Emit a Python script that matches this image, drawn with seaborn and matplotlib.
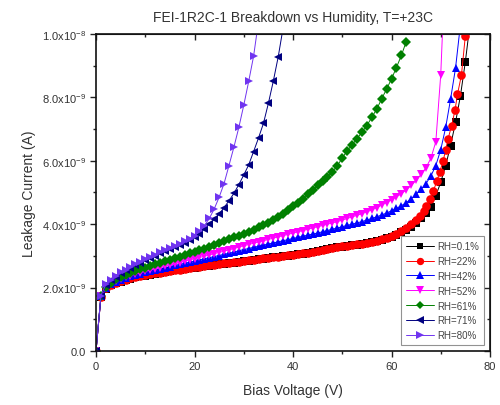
import matplotlib
matplotlib.use("Agg")
import matplotlib.pyplot as plt
from matplotlib.ticker import MultipleLocator
import pandas as pd
import seaborn as sns

# bias voltage (V) and leakage current (nA)
v_01 = list(range(0, 77))
i_01 = [0.0, 1.70, 1.97, 2.07, 2.14, 2.19, 2.24, 2.28, 2.32, 2.35, 2.38, 2.41, 2.44, 2.46, 2.49,
        2.51, 2.54, 2.56, 2.59, 2.61, 2.63, 2.65, 2.67, 2.69, 2.71, 2.73, 2.75, 2.77, 2.79, 2.81,
        2.83, 2.85, 2.87, 2.89, 2.91, 2.93, 2.95, 2.97, 2.99, 3.01, 3.03, 3.05, 3.07, 3.09, 3.12,
        3.15, 3.18, 3.21, 3.24, 3.27, 3.29, 3.31, 3.33, 3.35, 3.37, 3.40, 3.43, 3.47, 3.51, 3.55,
        3.60, 3.66, 3.74, 3.82, 3.92, 4.05, 4.20, 4.36, 4.55, 4.90, 5.32, 5.85, 6.48, 7.21, 8.05,
        9.13, 10.4]

v_22 = list(range(0, 66)) + [65.8, 66.5, 67.1, 67.8, 68.5, 69.2, 69.8, 70.5, 71.0, 71.5, 72.2,
                             72.9, 73.4, 74.2, 75.0, 75.5]
i_22 = [0.0, 1.70, 1.98, 2.08, 2.15, 2.20, 2.25, 2.29, 2.33, 2.36, 2.39, 2.42, 2.45, 2.47, 2.50,
        2.52, 2.55, 2.57, 2.60, 2.62, 2.64, 2.66, 2.68, 2.70, 2.72, 2.74, 2.76, 2.78, 2.80, 2.82,
        2.84, 2.86, 2.88, 2.90, 2.92, 2.94, 2.96, 2.98, 3.00, 3.02, 3.04, 3.06, 3.08, 3.10, 3.13,
        3.16, 3.19, 3.22, 3.25, 3.28, 3.30, 3.32, 3.34, 3.36, 3.38, 3.41, 3.44, 3.48, 3.52, 3.56,
        3.62, 3.70, 3.78, 3.88, 3.99, 4.12,
        4.26, 4.42, 4.58, 4.80, 5.05, 5.35, 5.65, 6.00, 6.35, 6.70, 7.10, 7.60, 8.10, 8.70, 9.95,
        11.2]

v_42 = list(range(0, 75))
i_42 = [0.0, 1.72, 1.98, 2.10, 2.18, 2.24, 2.30, 2.35, 2.40, 2.44, 2.48, 2.52, 2.56, 2.59, 2.63,
        2.66, 2.70, 2.73, 2.77, 2.80, 2.84, 2.87, 2.91, 2.94, 2.98, 3.01, 3.05, 3.08, 3.12, 3.16,
        3.20, 3.23, 3.27, 3.30, 3.34, 3.37, 3.41, 3.44, 3.48, 3.51, 3.55, 3.58, 3.62, 3.65, 3.69,
        3.72, 3.76, 3.80, 3.84, 3.88, 3.92, 3.96, 4.00, 4.04, 4.08, 4.13, 4.18, 4.23, 4.29, 4.35,
        4.42, 4.50, 4.58, 4.68, 4.80, 4.94, 5.10, 5.28, 5.52, 5.85, 6.35, 7.05, 7.95, 8.92, 10.3]

v_52 = list(range(0, 72))
i_52 = [0.0, 1.72, 2.00, 2.12, 2.20, 2.27, 2.33, 2.38, 2.43, 2.47, 2.51, 2.55, 2.59, 2.63, 2.67,
        2.71, 2.75, 2.79, 2.83, 2.87, 2.91, 2.95, 2.99, 3.03, 3.07, 3.11, 3.15, 3.19, 3.23, 3.28,
        3.32, 3.36, 3.40, 3.44, 3.48, 3.52, 3.56, 3.60, 3.64, 3.68, 3.72, 3.76, 3.80, 3.84, 3.88,
        3.92, 3.96, 4.00, 4.04, 4.08, 4.13, 4.18, 4.23, 4.28, 4.33, 4.39, 4.45, 4.52, 4.60, 4.68,
        4.77, 4.86, 4.96, 5.08, 5.22, 5.38, 5.57, 5.78, 6.08, 6.60, 8.72, 12.5]

v_61 = list(range(0, 64))
i_61 = [0.0, 1.75, 2.03, 2.16, 2.26, 2.34, 2.41, 2.47, 2.53, 2.58, 2.63, 2.68, 2.73, 2.78, 2.83,
        2.88, 2.93, 2.98, 3.03, 3.08, 3.13, 3.18, 3.23, 3.28, 3.34, 3.40, 3.46, 3.52, 3.58, 3.64,
        3.70, 3.76, 3.83, 3.90, 3.97, 4.05, 4.12, 4.22, 4.33, 4.44, 4.56, 4.68, 4.80, 4.95, 5.08,
        5.22, 5.37, 5.50, 5.65, 5.85, 6.08, 6.32, 6.50, 6.70, 6.90, 7.11, 7.37, 7.63, 7.95, 8.26,
        8.58, 8.94, 9.32, 9.76]

v_71 = list(range(0, 39))
i_71 = [0.0, 1.72, 2.08, 2.23, 2.34, 2.45, 2.54, 2.63, 2.71, 2.79, 2.87, 2.94, 3.01, 3.08, 3.15,
        3.21, 3.28, 3.35, 3.42, 3.50, 3.58, 3.70, 3.85, 4.00, 4.15, 4.32, 4.52, 4.74, 4.97, 5.25,
        5.55, 5.87, 6.29, 6.72, 7.18, 7.81, 8.51, 9.28, 10.2]

v_80 = list(range(0, 34))
i_80 = [0.0, 1.75, 2.10, 2.25, 2.36, 2.48, 2.56, 2.65, 2.73, 2.82, 2.90, 2.97, 3.04, 3.11, 3.17,
        3.24, 3.31, 3.38, 3.46, 3.54, 3.63, 3.77, 3.95, 4.18, 4.48, 4.85, 5.28, 5.85, 6.43, 7.05,
        7.75, 8.50, 9.30, 10.4]

labels = ["RH=0.1%", "RH=22%", "RH=42%", "RH=52%", "RH=61%", "RH=71%", "RH=80%"]
colors = ["#000000", "#ff0000", "#0000ff", "#ff00ff", "#008000", "#000080", "#7034f0"]
markers = ["s", "o", "^", "v", "D", "<", ">"]
sizes = [5.4, 6.2, 6.4, 6.4, 5.2, 6.4, 6.4]

ytick_vals = [0, 2, 4, 6, 8, 10]
ytick_text = ["0.0", r"2.0x10$^{-9}$", r"4.0x10$^{-9}$", r"6.0x10$^{-9}$",
              r"8.0x10$^{-9}$", r"1.0x10$^{-8}$"]

sns.set_style("ticks")
plt.rcParams["font.family"] = ["Liberation Sans", "DejaVu Sans"]
plt.rcParams["mathtext.fontset"] = "custom"
plt.rcParams["mathtext.rm"] = "Liberation Sans"

fig = plt.figure(figsize=(5.0, 4.06), dpi=100)
ax = fig.add_axes([0.192, 0.133, 0.788, 0.781])

series = [(v_01, i_01), (v_22, i_22), (v_42, i_42), (v_52, i_52),
          (v_61, i_61), (v_71, i_71), (v_80, i_80)]
for (v, cur), lab, col, mk, ms in zip(series, labels, colors, markers, sizes):
    d = pd.DataFrame({"V": v, "I": cur})
    sns.lineplot(data=d, x="V", y="I", sort=False, estimator=None, color=col,
                 marker=mk, markersize=ms, markeredgewidth=0, linewidth=0.7,
                 label=lab, ax=ax)

ax.set_xlim(0, 80)
ax.set_ylim(0, 10)
ax.xaxis.set_major_locator(MultipleLocator(20))
ax.xaxis.set_minor_locator(MultipleLocator(10))
ax.set_yticks(ytick_vals)
ax.set_yticklabels(ytick_text)
ax.yaxis.set_minor_locator(MultipleLocator(1))
ax.tick_params(which="both", direction="out", width=1.0, colors="#222222", labelsize=8,
               labelcolor="#333333")
ax.tick_params(which="major", length=4)
ax.tick_params(which="minor", length=2.5)
for s in ax.spines.values():
    s.set_linewidth(1.2)
    s.set_color("#111111")

# mirrored ticks pointing inward on top and right
top = ax.secondary_xaxis("top")
top.xaxis.set_major_locator(MultipleLocator(20))
top.xaxis.set_minor_locator(MultipleLocator(10))
top.tick_params(which="both", direction="in", labeltop=False, width=1.0, colors="#222222")
top.tick_params(which="major", length=4)
top.tick_params(which="minor", length=2.5)
right = ax.secondary_yaxis("right")
right.yaxis.set_major_locator(MultipleLocator(2))
right.yaxis.set_minor_locator(MultipleLocator(1))
right.tick_params(which="both", direction="in", labelright=False, width=1.0, colors="#222222")
right.tick_params(which="major", length=4)
right.tick_params(which="minor", length=2.5)

ax.set_xlabel("Bias Voltage (V)", fontsize=10, color="#333333", labelpad=8)
ax.set_ylabel("Leakage Current (A)", fontsize=10, color="#333333", labelpad=4)
ax.set_title("FEI-1R2C-1 Breakdown vs Humidity, T=+23C", fontsize=10, color="#333333", pad=9)

leg = ax.legend(loc="lower right", fontsize=7, frameon=True, fancybox=False,
                handlelength=2.8, handletextpad=0.4, labelspacing=0.5, markerscale=0.85,
                borderaxespad=0.6, borderpad=0.5, edgecolor="#777777")
leg.get_frame().set_linewidth(0.8)
for t in leg.get_texts():
    t.set_color("#444444")

fig.savefig("out.png", dpi=100, facecolor="white")
